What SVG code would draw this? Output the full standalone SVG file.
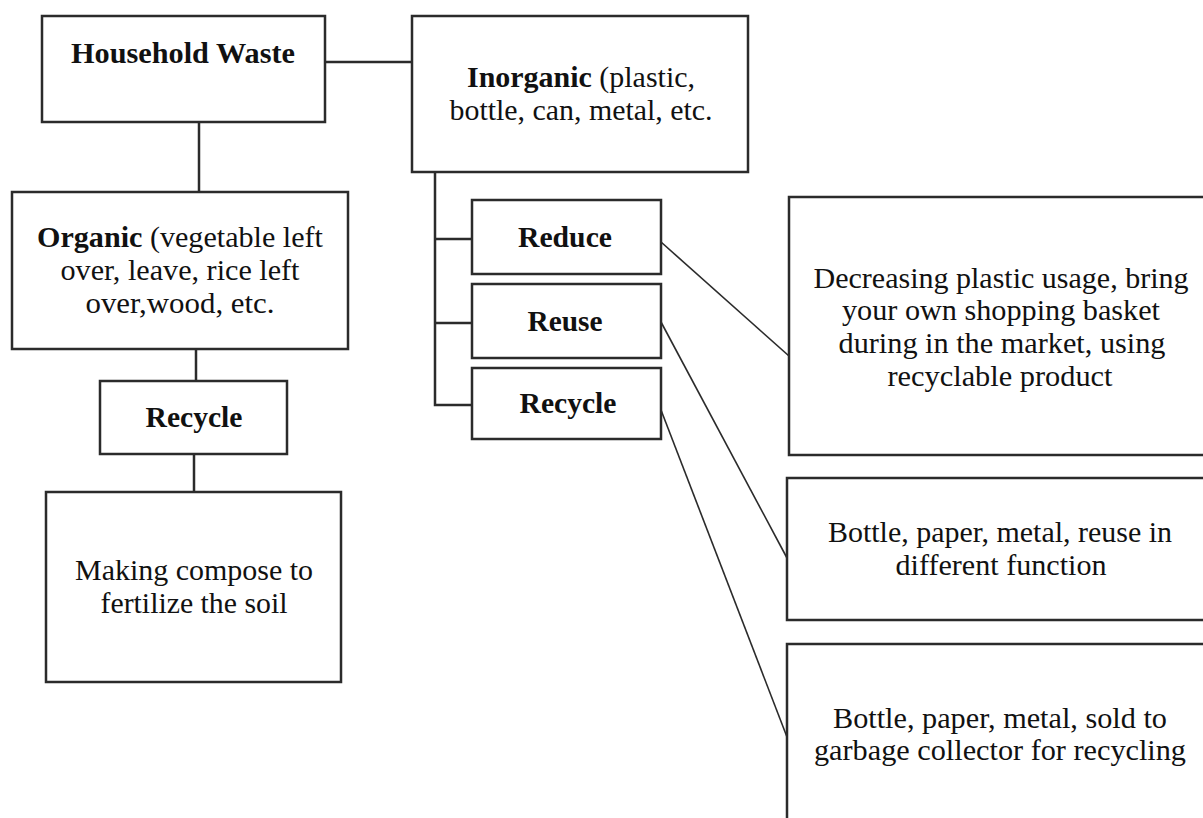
<svg xmlns="http://www.w3.org/2000/svg" width="1203" height="818" viewBox="0 0 1203 818">
<style>
.box{fill:#fff;stroke:#2b2b2b;stroke-width:2.5}
.ln{fill:none;stroke:#2b2b2b;stroke-width:2.5}
.dg{fill:none;stroke:#2b2b2b;stroke-width:1.6}
text{font-family:"Liberation Serif","Times New Roman",serif;font-size:29px;fill:#111;text-anchor:middle}
.b{font-weight:bold}
</style>
<rect width="1203" height="818" fill="#fff"/>
<g id="connectors">
<line class="ln" x1="325" y1="62" x2="412" y2="62"/>
<line class="ln" x1="199" y1="122" x2="199" y2="192"/>
<line class="ln" x1="196" y1="349" x2="196" y2="381"/>
<line class="ln" x1="194" y1="454" x2="194" y2="492"/>
<polyline class="ln" points="435,172 435,405 472,405"/>
<line class="ln" x1="435" y1="239" x2="472" y2="239"/>
<line class="ln" x1="435" y1="323" x2="472" y2="323"/>
<line class="dg" x1="661" y1="242" x2="789" y2="356"/>
<line class="dg" x1="661" y1="322" x2="787" y2="558"/>
<line class="dg" x1="661" y1="410" x2="787" y2="737"/>
</g>
<g id="household">
<rect class="box" x="42" y="16" width="283" height="106"/>
<text class="b" x="183" y="63" textLength="224" lengthAdjust="spacingAndGlyphs">Household Waste</text>
</g>
<g id="inorganic">
<rect class="box" x="412" y="16" width="336" height="156"/>
<text x="581" y="87" textLength="228" lengthAdjust="spacingAndGlyphs"><tspan class="b">Inorganic</tspan> (plastic,</text>
<text x="581" y="120" textLength="263" lengthAdjust="spacingAndGlyphs">bottle, can, metal, etc.</text>
</g>
<g id="organic">
<rect class="box" x="12" y="192" width="336" height="157"/>
<text x="180" y="247" textLength="286" lengthAdjust="spacingAndGlyphs"><tspan class="b">Organic</tspan> (vegetable left</text>
<text x="180" y="280" textLength="239" lengthAdjust="spacingAndGlyphs">over, leave, rice left</text>
<text x="180" y="313" textLength="189" lengthAdjust="spacingAndGlyphs">over,wood, etc.</text>
</g>
<g id="recycle-organic">
<rect class="box" x="100" y="381" width="187" height="73"/>
<text class="b" x="194" y="427" textLength="97" lengthAdjust="spacingAndGlyphs">Recycle</text>
</g>
<g id="compose">
<rect class="box" x="46" y="492" width="295" height="190"/>
<text x="194" y="580" textLength="238" lengthAdjust="spacingAndGlyphs">Making compose to</text>
<text x="194" y="613" textLength="187" lengthAdjust="spacingAndGlyphs">fertilize the soil</text>
</g>
<g id="reduce">
<rect class="box" x="472" y="200" width="189" height="74"/>
<text class="b" x="565" y="247" textLength="94" lengthAdjust="spacingAndGlyphs">Reduce</text>
</g>
<g id="reuse">
<rect class="box" x="472" y="284" width="189" height="74"/>
<text class="b" x="565" y="331" textLength="75" lengthAdjust="spacingAndGlyphs">Reuse</text>
</g>
<g id="recycle-inorganic">
<rect class="box" x="472" y="368" width="189" height="71"/>
<text class="b" x="568" y="413" textLength="97" lengthAdjust="spacingAndGlyphs">Recycle</text>
</g>
<g id="reduce-desc">
<rect class="box" x="789" y="197" width="430" height="258"/>
<text x="1001" y="288" textLength="375" lengthAdjust="spacingAndGlyphs">Decreasing plastic usage, bring</text>
<text x="1001" y="320" textLength="318" lengthAdjust="spacingAndGlyphs">your own shopping basket</text>
<text x="1002" y="353" textLength="327" lengthAdjust="spacingAndGlyphs">during in the market, using</text>
<text x="1000" y="386" textLength="225" lengthAdjust="spacingAndGlyphs">recyclable product</text>
</g>
<g id="reuse-desc">
<rect class="box" x="787" y="478" width="430" height="142"/>
<text x="1000" y="542" textLength="344" lengthAdjust="spacingAndGlyphs">Bottle, paper, metal, reuse in</text>
<text x="1001" y="575" textLength="211" lengthAdjust="spacingAndGlyphs">different function</text>
</g>
<g id="recycle-desc">
<rect class="box" x="787" y="644" width="430" height="190"/>
<text x="1000" y="728" textLength="334" lengthAdjust="spacingAndGlyphs">Bottle, paper, metal, sold to</text>
<text x="1000" y="760" textLength="372" lengthAdjust="spacingAndGlyphs">garbage collector for recycling</text>
</g>
</svg>
